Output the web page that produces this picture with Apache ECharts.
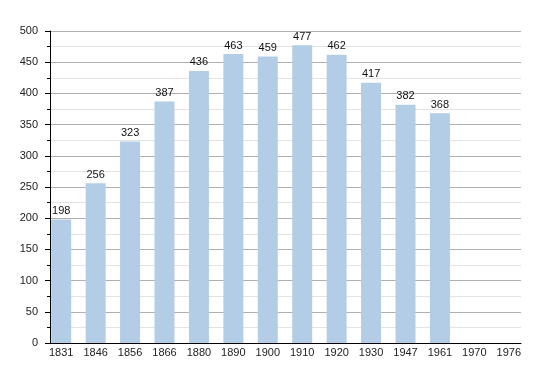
<!DOCTYPE html>
<html>
<head>
<meta charset="utf-8">
<script src="https://cdn.jsdelivr.net/npm/echarts@6/dist/echarts.min.js"></script>
<style>html,body{margin:0;padding:0;background:#fff}#c{width:550px;height:373px}</style>
</head>
<body>
<div id="c"></div>
<script>
var years = ['1831','1846','1856','1866','1880','1890','1900','1910','1920','1930','1947','1961','1970','1976'];
var population = [198, 256, 323, 387, 436, 463, 459, 477, 462, 417, 382, 368, null, null];
var yTicks = {min: 0, max: 500, interval: 50};

var font = 'Liberation Sans, Arial, sans-serif';
var chart = echarts.init(document.getElementById('c'), null, {renderer: 'canvas'});
chart.setOption({
  animation: false,
  backgroundColor: '#fff',
  grid: [
    {left: 50, right: 29, top: 31, bottom: 30},
    {left: 44, right: 24, top: 31, bottom: 30}
  ],
  xAxis: [
    {gridIndex: 0, type: 'value', min: 0, max: 1,
     axisLine: {show: true, lineStyle: {color: '#000', width: 1}},
     axisTick: {show: false}, axisLabel: {show: false}, splitLine: {show: false}},
    {gridIndex: 1, type: 'category', data: years,
     axisLine: {show: false}, axisTick: {show: false},
     axisLabel: {color: '#222', fontSize: 11, fontFamily: font, margin: 4, interval: 0}}
  ],
  yAxis: [
    {gridIndex: 0, type: 'value', min: yTicks.min, max: yTicks.max, interval: yTicks.interval,
     axisLine: {show: true, lineStyle: {color: '#000', width: 1}},
     axisTick: {show: true, length: 5, lineStyle: {color: '#000'}},
     minorTick: {show: true, splitNumber: 2, length: 3, lineStyle: {color: '#000'}},
     axisLabel: {color: '#222', fontSize: 11, fontFamily: font, margin: 12},
     splitLine: {show: true, lineStyle: {color: '#b0b0b0', width: 1}},
     minorSplitLine: {show: true, lineStyle: {color: '#e3e3e3', width: 1}}},
    {gridIndex: 1, type: 'value', min: yTicks.min, max: yTicks.max, show: false,
     splitLine: {show: false}}
  ],
  series: [{
    type: 'bar', xAxisIndex: 1, yAxisIndex: 1,
    data: population, barWidth: 20,
    itemStyle: {color: '#b3cde6'},
    label: {show: true, position: 'top', distance: 3, color: '#111', fontSize: 11, fontFamily: font}
  }]
});
</script>
</body>
</html>
